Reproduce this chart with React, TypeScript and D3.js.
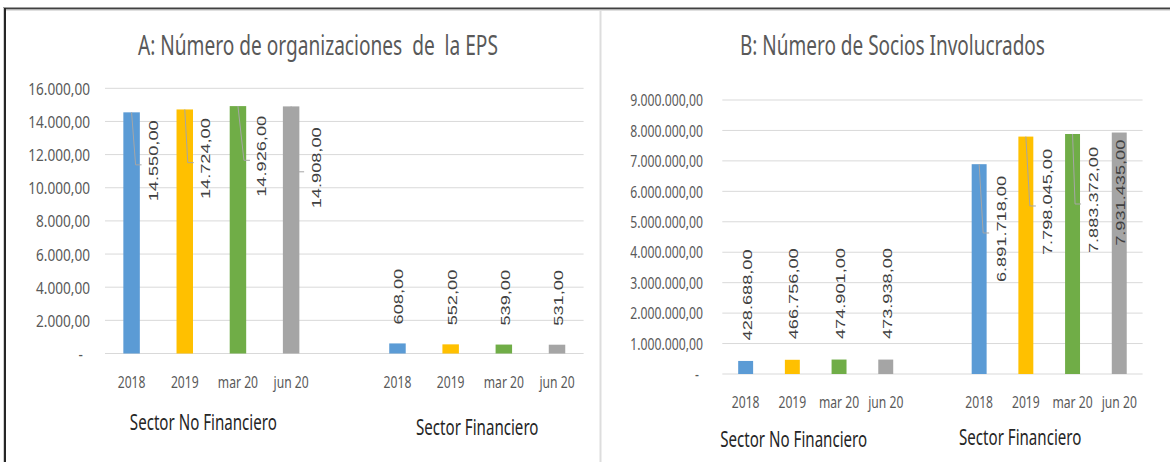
import React, { useLayoutEffect, useRef, useState } from "react";
import * as d3 from "d3";

// ---------- data ----------
const years = ["2018", "2019", "mar 20", "jun 20"];
const sectors = ["Sector No Financiero", "Sector Financiero"];
const seriesColors = ["#5B9BD5", "#FFC000", "#70AD47", "#A5A5A5"];

const orgNoFinanciero = [14550, 14724, 14926, 14908];
const orgFinanciero = [608, 552, 539, 531];
const sociosNoFinanciero = [428688, 466756, 474901, 473938];
const sociosFinanciero = [6891718, 7798045, 7883372, 7931435];

const ticksA = [0, 2000, 4000, 6000, 8000, 10000, 12000, 14000, 16000];
const ticksB = [0, 1e6, 2e6, 3e6, 4e6, 5e6, 6e6, 7e6, 8e6, 9e6];

const titleA = "A: Número de organizaciones  de  la EPS";
const titleB = "B: Número de Socios Involucrados";

// ---------- layout (manual label placements as in the source) ----------
const nudgeA = [
  [22, 48.5],
  [21, 49.2],
  [24, 50.2],
  [25, 61.4],
];
const nudgeB = [
  [22, 64.8],
  [22, 65.4],
  [20.5, 66],
  [1.5, 60.2],
];

const es = d3.formatLocale({ decimal: ",", thousands: ".", grouping: [3], currency: ["", ""] });
const fmt = es.format(",.2f");

const slots = [
  ...years.map((y) => "0|" + y),
  "gap",
  ...years.map((y) => "1|" + y),
];

const GRID = "#D9D9D9";
const TXT = "#595959";
const LBL = "#404040";
const LEADER = "#A6A6A6";
const SANS = "'Noto Sans', 'Open Sans', sans-serif";
const ARIAL = "'Liberation Sans', Arial, sans-serif";

type PanelCfg = {
  title: string;
  titleX: number;
  titleLen: number;
  groups: number[][];
  ticks: number[];
  yRange: [number, number];
  xRange: [number, number];
  pad: number;
  tickRight: number;
  zeroRight: number;
  tickSx: number;
  yearY: number;
  sectorDx: number[];
  sectorY: number[];
  leaderGroup: number;
  nudge: number[][];
  outsideGap: number;
};

const panels: PanelCfg[] = [
  {
    title: titleA,
    titleX: 138,
    titleLen: 360,
    groups: [orgNoFinanciero, orgFinanciero],
    ticks: ticksA,
    yRange: [353.5, 88.3],
    xRange: [105, 583.6],
    pad: 0.69,
    tickRight: 90,
    zeroRight: 83,
    tickSx: 0.83,
    yearY: 381.7,
    sectorDx: [-8, 0],
    sectorY: [421.7, 426.7],
    leaderGroup: 0,
    nudge: nudgeA,
    outsideGap: 19,
  },
  {
    title: titleB,
    titleX: 740,
    titleLen: 305,
    groups: [sociosNoFinanciero, sociosFinanciero],
    ticks: ticksB,
    yRange: [374, 100],
    xRange: [722.3, 1142.6],
    pad: 0.68,
    tickRight: 703,
    zeroRight: 699,
    tickSx: 0.745,
    yearY: 401.7,
    sectorDx: [-22, -29],
    sectorY: [438, 436.7],
    leaderGroup: 1,
    nudge: nudgeB,
    outsideGap: 20.5,
  },
];

function HText(props: {
  x: number;
  y: number;
  size: number;
  sx: number;
  anchor?: string;
  fill?: string;
  children: React.ReactNode;
}) {
  const { x, y, size, sx, anchor = "middle", fill = TXT, children } = props;
  return (
    <text
      transform={`translate(${x},${y}) scale(${sx},1)`}
      textAnchor={anchor}
      dominantBaseline="central"
      fontFamily={SANS}
      fontSize={size}
      fill={fill}
    >
      {children}
    </text>
  );
}

// Title squeezed horizontally to the reference's width (measured after mount)
function FitTitle({ x, y, width, text }: { x: number; y: number; width: number; text: string }) {
  const ref = useRef<SVGTextElement>(null);
  const [sx, setSx] = useState(0.7);
  useLayoutEffect(() => {
    if (ref.current) {
      const len = ref.current.getComputedTextLength();
      if (len > 0) setSx(width / len);
    }
  }, [text, width]);
  return (
    <text
      ref={ref}
      transform={`translate(${x},${y}) scale(${sx},1)`}
      fontFamily={SANS}
      fontSize={27}
      fill={TXT}
      style={{ whiteSpace: "pre" }}
    >
      {text}
    </text>
  );
}

function Panel({ cfg }: { cfg: PanelCfg }) {
  const maxTick = cfg.ticks[cfg.ticks.length - 1];
  const y = d3.scaleLinear().domain([0, maxTick]).range(cfg.yRange);
  const x = d3
    .scaleBand<string>()
    .domain(slots)
    .range(cfg.xRange)
    .paddingInner(cfg.pad)
    .paddingOuter(cfg.pad / 2);
  const bw = x.bandwidth();

  return (
    <g>
      <FitTitle x={cfg.titleX} y={55} width={cfg.titleLen} text={cfg.title} />

      {cfg.ticks.map((t) => (
        <g key={t}>
          <line x1={cfg.xRange[0]} x2={cfg.xRange[1]} y1={y(t)} y2={y(t)} stroke={GRID} strokeWidth={1} />
          <HText
            x={t === 0 ? cfg.zeroRight : cfg.tickRight}
            y={y(t)}
            size={16.4}
            sx={cfg.tickSx}
            anchor="end"
          >
            {t === 0 ? "-" : fmt(t)}
          </HText>
        </g>
      ))}

      {cfg.groups.map((vals, gi) =>
        vals.map((v, i) => {
          const key = gi + "|" + years[i];
          const x0 = x(key) as number;
          const top = y(v);
          return (
            <rect key={key} x={x0} y={top} width={bw} height={y(0) - top} fill={seriesColors[i]} />
          );
        })
      )}

      {cfg.groups.map((vals, gi) =>
        vals.map((v, i) => {
          const key = gi + "|" + years[i];
          const xc = (x(key) as number) + bw / 2;
          const top = y(v);
          if (gi === cfg.leaderGroup) {
            const [dx, dy] = cfg.nudge[i];
            const cx = xc + dx;
            const cy = top + dy;
            return (
              <g key={"l" + key}>
                {dx > 10 && (
                  <path
                    d={`M${xc},${top}L${cx - 18},${cy + 4}L${cx - 12},${cy + 4}`}
                    fill="none"
                    stroke={LEADER}
                    strokeWidth={1}
                  />
                )}
                <text
                  transform={`translate(${cx},${cy}) rotate(-90) scale(1.4,1)`}
                  textAnchor="middle"
                  dominantBaseline="central"
                  fontFamily={ARIAL}
                  fontSize={13}
                  fill={LBL}
                >
                  {fmt(v)}
                </text>
              </g>
            );
          }
          return (
            <text
              key={"l" + key}
              transform={`translate(${xc + 1.5},${top - cfg.outsideGap}) rotate(-90) scale(1.4,1)`}
              textAnchor="start"
              dominantBaseline="central"
              fontFamily={ARIAL}
              fontSize={13}
              fill={LBL}
            >
              {fmt(v)}
            </text>
          );
        })
      )}

      {slots
        .filter((s) => s !== "gap")
        .map((s) => (
          <HText key={"y" + s} x={(x(s) as number) + bw / 2} y={cfg.yearY} size={16.4} sx={0.74}>
            {s.split("|")[1]}
          </HText>
        ))}

      {sectors.map((name, gi) => {
        const first = (x(gi + "|" + years[0]) as number) + bw / 2;
        const last = (x(gi + "|" + years[years.length - 1]) as number) + bw / 2;
        return (
          <HText
            key={name}
            x={(first + last) / 2 + cfg.sectorDx[gi]}
            y={cfg.sectorY[gi]}
            size={21}
            sx={0.72}
            fill="#262626"
          >
            {name}
          </HText>
        );
      })}
    </g>
  );
}

export default function App() {
  return (
    <svg
      width={1170}
      height={462}
      style={{ position: "absolute", left: 0, top: 0, background: "#fff" }}
    >
      <rect x={0} y={0} width={1170} height={462} fill="#fff" />
      {panels.map((p, i) => (
        <Panel key={i} cfg={p} />
      ))}
      {/* frame */}
      <line x1={3} x2={1170} y1={8.5} y2={8.5} stroke="#404040" strokeWidth={2} />
      <line x1={5} x2={1170} y1={10} y2={10} stroke="#BFBFBF" strokeWidth={1} />
      <line x1={5} x2={5} y1={8} y2={462} stroke="#262626" strokeWidth={2} />
      <line x1={3.5} x2={3.5} y1={8} y2={462} stroke="#D0D0D0" strokeWidth={1} />
      <line x1={600.5} x2={600.5} y1={10.5} y2={462} stroke="#DDDDDD" strokeWidth={2} />
    </svg>
  );
}
